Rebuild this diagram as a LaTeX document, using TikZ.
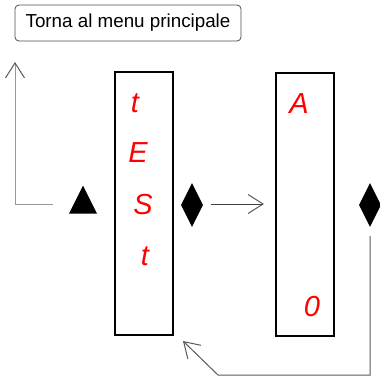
\documentclass[tikz,border=0pt]{standalone}
\usepackage{fontspec}
\setmainfont{Liberation Sans}
\usetikzlibrary{shapes.geometric,arrows.meta}
\begin{document}
\begin{tikzpicture}[x=1pt,y=-1pt,
  panel/.style={draw=black,line width=2pt,minimum width=58pt,inner sep=0pt},
  seg/.style={text=red,font=\fontsize{29}{29}\selectfont\itshape,inner sep=0pt},
  dia/.style={diamond,fill=black,draw=none,inner sep=0pt,minimum width=22pt,minimum height=44pt},
  tri/.style={isosceles triangle,shape border rotate=90,isosceles triangle stretches=true,fill=black,draw=none,inner sep=0pt,minimum width=28pt,minimum height=28pt},
  conn/.style={draw=gray!80,line width=1pt,-{Straight Barb[length=15pt,width=19pt,line width=1pt,color=gray!70!black]}},
  menubtn/.style={draw=black!70,rounded corners=4pt,line width=0.8pt,minimum width=226pt,minimum height=36pt,inner sep=0pt,font=\fontsize{18.8}{18.8}\selectfont}
]
\useasboundingbox (0,0) rectangle (380,376);
\node[menubtn] (menu) at (128,23) {Torna al menu principale};
\node[panel,minimum height=263pt] (b1) at (144,203.5) {};
\node[panel,minimum height=263pt] (b2) at (305,204.5) {};
\node[seg] (t1) at (135,103) {t};
\node[seg] (e1) at (138,153) {E};
\node[seg] (s1) at (143,205) {S};
\node[seg] (t2) at (145,256) {t};
\node[seg] (a1) at (299,104) {A};
\node[seg] (z1) at (312,307) {0};
\node[tri] (up) at (83,205) {};
\node[dia] (d1) at (192,205) {};
\node[dia] (d2) at (370,205) {};
\coordinate (l0) at (53,204);
\coordinate (l1) at (15,62);
\draw[conn] (l0) -| (l1);
\coordinate (m0) at (211,204);
\draw[conn,draw=black!75,shorten >=11pt] (m0) -- (b2.west |- m0);
\coordinate (r0) at (370,236);
\coordinate (r1) at (218,375);
\coordinate (r2) at (183,341);
\draw[conn,draw=gray!70!black] (r0) |- (r1) -- (r2);
\end{tikzpicture}
\end{document}
